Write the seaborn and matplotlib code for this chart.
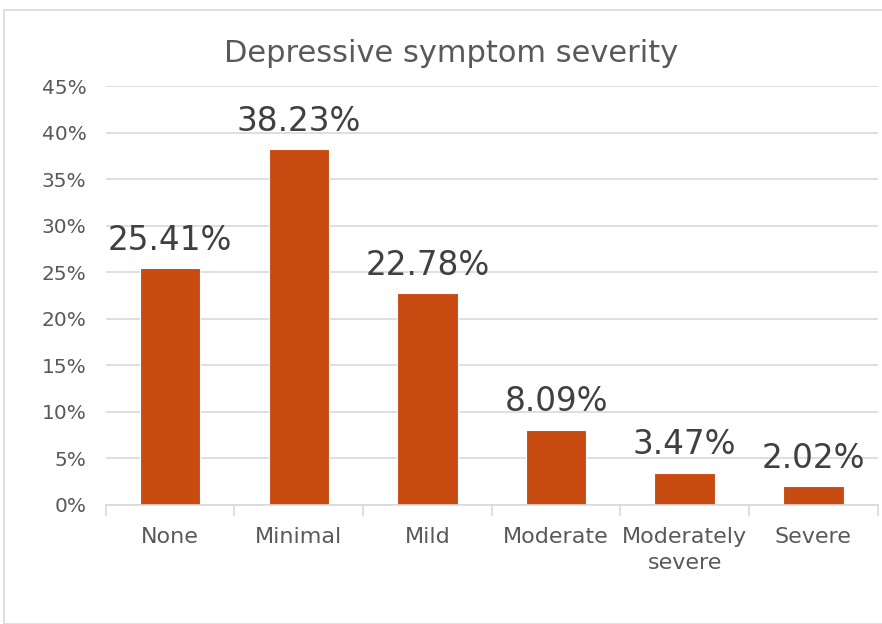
import matplotlib
matplotlib.use("Agg")
import matplotlib.pyplot as plt
import seaborn as sns
import pandas as pd
import numpy as np
from matplotlib.patches import Rectangle
from matplotlib.ticker import FuncFormatter, MultipleLocator, FixedLocator

categories = ["None", "Minimal", "Mild", "Moderate", "Moderately\nsevere", "Severe"]
values = [25.41, 38.23, 22.78, 8.09, 3.47, 2.02]
labels = ["25.41%", "38.23%", "22.78%", "8.09%", "3.47%", "2.02%"]
title = "Depressive symptom severity"

sns.set_theme(style="white")
plt.rcParams['font.family'] = ['DejaVu Sans']

df = pd.DataFrame({"cat": categories, "val": values})

fig = plt.figure(figsize=(8.82, 6.24), dpi=100)
ax = fig.add_axes([0.120, 0.191, 0.875, 0.671])

sns.barplot(data=df, x="cat", y="val", color="#C84B11", width=0.47,
            edgecolor="white", linewidth=0.8, saturation=1, ax=ax)

ax.set_ylim(0, 45)
ax.set_xlim(-0.5, len(categories) - 0.5)
ax.yaxis.set_major_locator(MultipleLocator(5))
ax.yaxis.set_major_formatter(FuncFormatter(lambda v, p: f"{v:.0f}%"))
ax.grid(axis="y", color="#D9D9D9", linewidth=1.2)
ax.set_axisbelow(True)
for s in ["top", "right", "left"]:
    ax.spines[s].set_visible(False)
ax.spines["bottom"].set_color("#D9D9D9")
ax.spines["bottom"].set_linewidth(1.2)

ax.tick_params(axis="y", length=0, pad=14, labelsize=14.5, labelcolor="#595959")
ax.tick_params(axis="x", which="major", length=0, pad=16, labelsize=16, labelcolor="#595959")
ax.xaxis.set_minor_locator(FixedLocator(np.arange(-0.5, len(categories), 1.0)))
ax.tick_params(axis="x", which="minor", bottom=True, length=8, width=1.2,
               color="#D9D9D9", direction="out")
for t in ax.get_xticklabels():
    t.set_linespacing(1.35)
ax.set_xlabel("")
ax.set_ylabel("")

for i, (v, lab) in enumerate(zip(values, labels)):
    ax.annotate(lab, (i, v), xytext=(0, 8), textcoords="offset points",
                ha="center", va="bottom", fontsize=23.5, color="#404040")

fig.text(0.512, 0.915, title, ha="center", va="center", fontsize=22, color="#595959")

fig.patches.append(Rectangle((4 / 882, 0), 1.0, 1 - 10 / 624, transform=fig.transFigure,
                             fill=False, edgecolor="#D9D9D9", linewidth=1.2, zorder=0))

fig.savefig("out.png", dpi=100)
